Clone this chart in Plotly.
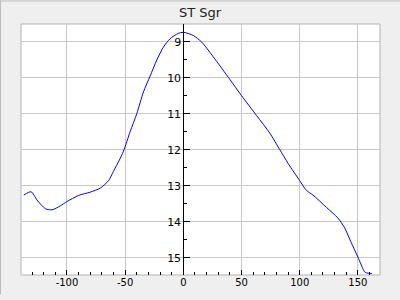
import plotly.graph_objects as go

phase = [-137.1, -130.8, -125.7, -118.5, -112.8, -105.7, -100, -90, -80, -71, -64.3, -60, -55,
         -51.4, -45.7, -40, -34.3, -28.6, -22.8, -17.1, -11.4, -4.3, 0, 8.6, 15.7, 25.7, 40,
         50, 62.9, 74.3, 82.9, 90, 100, 105.8, 111.4, 122.9, 132.9, 138.6, 144.3, 150,
         155.7, 157.2, 162]
mag = [13.26, 13.17, 13.40, 13.64, 13.67, 13.56, 13.44, 13.27, 13.18, 13.06, 12.86, 12.60, 12.29,
       12.04, 11.50, 11.00, 10.40, 9.96, 9.51, 9.15, 8.92, 8.77, 8.74, 8.83, 9.01, 9.42, 10.05,
       10.50, 11.05, 11.54, 12.00, 12.38, 12.86, 13.13, 13.26, 13.60, 13.90, 14.17, 14.58, 14.98,
       15.39, 15.42, 15.44]

x_ticks = [-100, -50, 0, 50, 100, 150]
x_labels = ["-100", "-50", "0", "50", "100", "150"]
y_ticks = [9, 10, 11, 12, 13, 14, 15]
y_labels = ["9", "10", "11", "12", "13", "14", "15"]

xmin, xmax = -139.5, 169.0
ymin, ymax = 8.51, 15.48

W, H = 400, 300
ml, mr, mt, mb = 21, 20, 24, 20
pw, ph = W - ml - mr, H - mt - mb

fig = go.Figure()
fig.add_trace(go.Scatter(x=phase, y=mag, mode="lines",
                         line=dict(color="#0000ff", width=1, shape="spline", smoothing=0.7),
                         showlegend=False))

font = dict(family="DejaVu Sans", size=10, color="#000000")

fig.update_layout(
    width=W, height=H,
    margin=dict(l=ml, r=mr, t=mt, b=mb),
    paper_bgcolor="#efefef",
    plot_bgcolor="#ffffff",
    title=dict(text="ST Sgr", x=0.5, xanchor="center", y=1 - 12 / H, yanchor="middle",
               font=dict(family="DejaVu Sans", size=13, color="#222222")),
    xaxis=dict(range=[xmin, xmax], tickvals=x_ticks, ticktext=x_labels,
               ticks="inside", ticklen=5, tickcolor="#000000", tickwidth=1,
               showgrid=True, gridcolor="#c8c8c8", gridwidth=1,
               zeroline=False, showline=False, tickfont=font,
               minor=dict(tick0=0, dtick=10, ticks="inside", ticklen=3,
                          tickcolor="#000000", showgrid=False)),
    yaxis=dict(range=[ymax, ymin], tickvals=y_ticks, ticktext=y_labels,
               anchor="free", position=(0 - xmin) / (xmax - xmin), side="left",
               showline=True, linecolor="#000000", linewidth=1,
               ticks="inside", ticklen=6, tickcolor="#000000", tickwidth=1,
               showgrid=True, gridcolor="#c8c8c8", gridwidth=1,
               zeroline=False, tickfont=dict(family="DejaVu Sans", size=11, color="#000000"),
               minor=dict(tick0=0, dtick=0.5, ticks="inside", ticklen=3,
                          tickcolor="#000000", showgrid=False)),
    shapes=[
        dict(type="rect", xref="paper", yref="paper", x0=0, x1=1, y0=0, y1=1,
             line=dict(color="#b4b4b4", width=1), layer="below"),
        dict(type="line", xref="paper", yref="paper",
             x0=-(ml - 0.5) / pw, x1=-(ml - 0.5) / pw, y0=-mb / ph, y1=1 + mt / ph,
             line=dict(color="#bdbdbd", width=1)),
        dict(type="line", xref="paper", yref="paper",
             x0=-ml / pw, x1=1 + mr / pw, y0=1 + (mt - 0.5) / ph, y1=1 + (mt - 0.5) / ph,
             line=dict(color="#bdbdbd", width=1)),
    ],
)

fig.write_html("out.html")
